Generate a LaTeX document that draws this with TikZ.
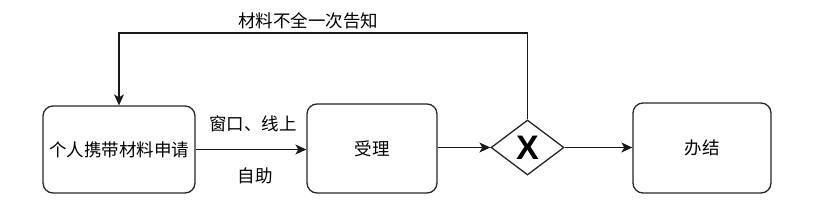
\documentclass[tikz,border=0pt]{standalone}
\usepackage{fontspec}
\setmainfont{Noto Sans CJK SC}
\newfontfamily\xfont{Liberation Sans}
\usetikzlibrary{shapes.geometric,arrows.meta}
\tikzset{
  procbox/.style={draw=black!85, line width=1.3pt, rounded corners=10pt, inner sep=0pt, font=\fontsize{17.5}{20}\selectfont},
  gate/.style={draw=black!85, line width=1.3pt, diamond, inner sep=0pt, aspect=1.33},
  arr/.style={draw=black!90, line width=1.2pt, -{Stealth[length=11pt,width=10pt,inset=3pt]}},
  lab/.style={font=\fontsize{17.5}{20}\selectfont, inner sep=0pt}
}
\begin{document}
\begin{tikzpicture}[x=1pt,y=-1pt]
\useasboundingbox (0,0) rectangle (814,201);
\node[procbox, minimum width=152pt, minimum height=87pt] (b1) at (119,149.5) {个人携带材料申请};
\node[procbox, minimum width=130pt, minimum height=89pt] (b2) at (372,148.5) {受理};
\node[procbox, minimum width=138pt, minimum height=90pt] (b3) at (702,148) {办结};
\node[gate, minimum width=73pt, minimum height=55pt] (g) at (527.5,147.5) {};
\node[font=\xfont\bfseries\fontsize{34}{34}\selectfont, inner sep=0pt] (gx) at (g.center) {X};
\draw[arr] (b1.east) -- (b1.east -| b2.west);
\draw[arr] (b2.east |- g.west) -- (g.west);
\draw[arr] (g.east) -- (g.east -| b3.west);
\coordinate (fb) at (119,33);
\draw[arr] (g.north) |- (fb) -- (b1.north);
\node[lab] (t1) at (308,21) {材料不全一次告知};
\node[lab] (t2) at (253,124) {窗口、线上};
\node[lab] (t3) at (255,176) {自助};
\end{tikzpicture}
\end{document}
